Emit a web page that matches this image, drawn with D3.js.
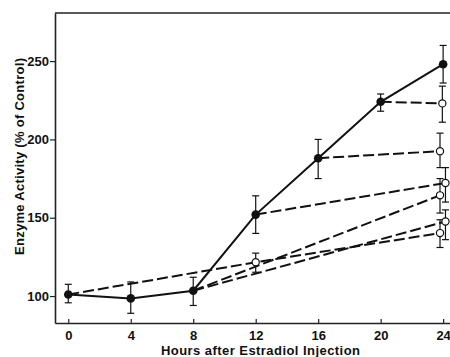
<!DOCTYPE html>
<html>
<head>
<meta charset="utf-8">
<script src="https://cdn.jsdelivr.net/npm/d3@7"></script>
<style>
  html, body { margin: 0; padding: 0; background: #fff; }
  svg { display: block; }
  text { font-family: "Liberation Sans", Arial, sans-serif; fill: #111; }
</style>
</head>
<body>
<div id="chart"></div>
<script>
// hours after injection, control curve (filled circles)
const hours = [0, 4, 8, 12, 16, 20, 24];
const controlMean = [101, 98.5, 103.4, 152, 188, 224, 248];
const controlHigh = [107.5, 109, 112, 164, 200, 229, 260];
const controlLow = [95.7, 89, 94, 140, 175, 218, 236];

// dashed curves, [hour, value]
const from0 = [[0, 101], [12, 121.6], [23.8, 140.2]];
const from8a = [[8, 103.4], [24.15, 147.6]];
const from8b = [[8, 103.4], [23.8, 164.3]];
const from12 = [[12, 152], [24.15, 172.2]];
const from16 = [[16, 188], [23.8, 192.5]];
const from20 = [[20, 224], [23.95, 223]];

// open circles
const openHours = [12, 23.8, 24.15, 23.8, 24.15, 23.8, 23.95];
const openMean = [121.6, 140.2, 147.6, 164.3, 172.2, 192.5, 223];
const openHigh = [127.4, 148.7, 155, 175, 182, 204, 234];
const openLow = [115.2, 131, 136, 153, 160, 182, 211];

const xTicks = [0, 4, 8, 12, 16, 20, 24];
const yTicks = [100, 150, 200, 250];

const width = 450, height = 357;
const svg = d3.select("#chart").append("svg")
    .attr("width", width).attr("height", height);

const x = d3.scaleLinear().domain([-0.85, 24.44]).range([55, 450]);
const y = d3.scaleLinear().domain([82.8, 280.7]).range([323, 13]);

// frame
svg.append("line").attr("x1", 55).attr("x2", 450).attr("y1", 13).attr("y2", 13)
    .attr("stroke", "#222").attr("stroke-width", 1.3);

const xAxis = svg.append("g").attr("transform", "translate(0,323)")
    .call(d3.axisBottom(x).tickValues(xTicks).tickSizeInner(-4).tickSizeOuter(0).tickPadding(8));
xAxis.select(".domain").attr("stroke", "#222").attr("stroke-width", 1.4);
xAxis.selectAll(".tick line").attr("stroke", "#222").attr("stroke-width", 1.2);
xAxis.selectAll("text").attr("font-size", 13).attr("font-weight", "bold")
    .attr("font-family", "Liberation Sans, Arial, sans-serif").attr("fill", "#111");

const yAxis = svg.append("g").attr("transform", "translate(55,0)")
    .call(d3.axisLeft(y).tickValues(yTicks).tickSizeInner(5).tickSizeOuter(0).tickPadding(1));
yAxis.select(".domain").attr("stroke", "#222").attr("stroke-width", 1.6);
yAxis.selectAll(".tick line").attr("stroke", "#222").attr("stroke-width", 1.2);
yAxis.selectAll("text").attr("font-size", 13).attr("font-weight", "bold")
    .attr("font-family", "Liberation Sans, Arial, sans-serif").attr("fill", "#111");

// titles
svg.append("text")
    .attr("x", 260.5).attr("y", 355)
    .attr("text-anchor", "middle").attr("font-size", 13).attr("font-weight", "bold")
    .attr("textLength", 199).attr("lengthAdjust", "spacing")
    .text("Hours after Estradiol Injection");

svg.append("text")
    .attr("transform", "translate(23.5,156.5) rotate(-90)")
    .attr("text-anchor", "middle").attr("font-size", 13).attr("font-weight", "bold")
    .attr("textLength", 197).attr("lengthAdjust", "spacing")
    .text("Enzyme Activity (% of Control)");

const line = d3.line().x(d => x(d[0])).y(d => y(d[1]));

// dashed lines
const dashed = [from0, from8a, from8b, from12, from16, from20];
svg.append("g").selectAll("path").data(dashed).join("path")
    .attr("d", line)
    .attr("fill", "none").attr("stroke", "#111").attr("stroke-width", 2)
    .attr("stroke-dasharray", "11,4");

// solid control line
svg.append("path")
    .attr("d", line(hours.map((h, i) => [h, controlMean[i]])))
    .attr("fill", "none").attr("stroke", "#111").attr("stroke-width", 2);

// error bars
function errorBars(hs, hi, lo) {
    const g = svg.append("g").attr("stroke", "#111").attr("stroke-width", 1.2);
    hs.forEach((h, i) => {
        const cx = x(h);
        g.append("line").attr("x1", cx).attr("x2", cx).attr("y1", y(hi[i])).attr("y2", y(lo[i]));
        g.append("line").attr("x1", cx - 3.5).attr("x2", cx + 3.5).attr("y1", y(hi[i])).attr("y2", y(hi[i]));
        g.append("line").attr("x1", cx - 3.5).attr("x2", cx + 3.5).attr("y1", y(lo[i])).attr("y2", y(lo[i]));
    });
}
errorBars(hours, controlHigh, controlLow);
errorBars(openHours, openHigh, openLow);

// markers
svg.append("g").selectAll("circle").data(hours).join("circle")
    .attr("cx", d => x(d)).attr("cy", (d, i) => y(controlMean[i]))
    .attr("r", 4.3).attr("fill", "#111");

svg.append("g").selectAll("circle").data(openHours).join("circle")
    .attr("cx", d => x(d)).attr("cy", (d, i) => y(openMean[i]))
    .attr("r", 3.6).attr("fill", "#fff").attr("stroke", "#111").attr("stroke-width", 1.2);
</script>
</body>
</html>
